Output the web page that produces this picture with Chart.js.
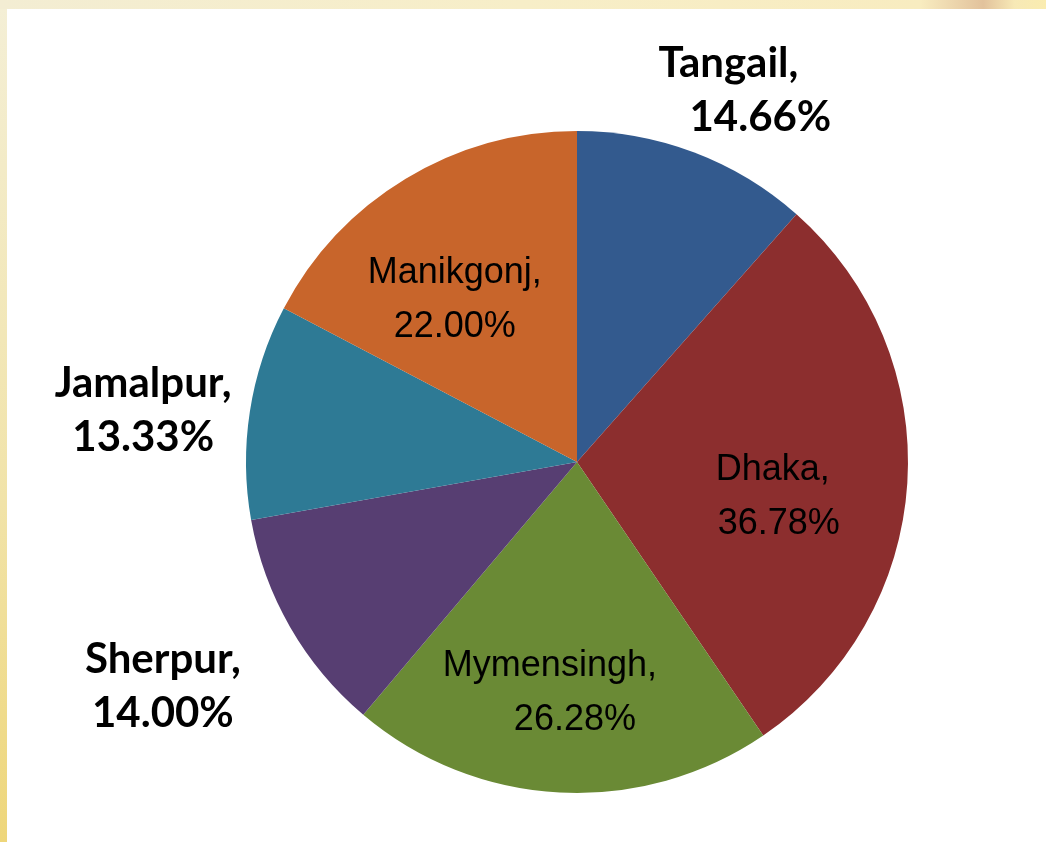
<!DOCTYPE html>
<html>
<head>
<meta charset="utf-8">
<script src="https://cdn.jsdelivr.net/npm/chart.js@4.4.1/dist/chart.umd.min.js"></script>
<style>
  html, body { margin: 0; padding: 0; }
  body {
    width: 1046px; height: 842px; position: relative; overflow: hidden;
    background: linear-gradient(to bottom, #f4efd6 0%, #f1e3a8 60%, #eed67a 100%);
  }
  .topband {
    position: absolute; left: 0; top: 0; width: 1046px; height: 9px;
    background: linear-gradient(to right, #f3edd3 0%, #f7eec8 50%, #f8ecc0 88%, #e2c29c 94%, #f7e9b6 97%, #faecb0 100%);
  }
  .panel { position: absolute; left: 7px; top: 9px; right: 0; bottom: 0; background: #ffffff; }
  #wrap { position: absolute; left: 0; top: 0; width: 1046px; height: 842px; }
</style>
</head>
<body>
<div class="topband"></div>
<div class="panel"></div>
<div id="wrap"><canvas id="pieChart"></canvas></div>
<script>
const districts = ['Tangail', 'Dhaka', 'Mymensingh', 'Sherpur', 'Jamalpur', 'Manikgonj'];
const shares = [14.66, 36.78, 26.28, 14.00, 13.33, 22.00];
const sliceColors = ['#335a8e', '#8c2e2e', '#6a8a35', '#573e72', '#2e7a95', '#c8652b'];

// label placement: radius factor, nudge x/y, per-line x shifts, outside (bold) or inside
const labelPlace = [
  { f: 1.23, dx: 39, dy: 9, l1: -32, l2: 0, outside: true },
  { f: 0.62, dx: -3, dy: 22, l1: -6, l2: 0, outside: false },
  { f: 0.70, dx: -15, dy: 0, l1: 0, l2: 25, outside: false },
  { f: 1.43, dx: -4, dy: -12, l1: 0, l2: 0, outside: true },
  { f: 1.32, dx: -2, dy: 15, l1: 0, l2: 0, outside: true },
  { f: 0.62, dx: -16, dy: 14, l1: 0, l2: 0, outside: false }
];

const sliceLabels = {
  id: 'sliceLabels',
  afterDatasetsDraw(chart) {
    const ctx = chart.ctx;
    const meta = chart.getDatasetMeta(0);
    meta.data.forEach(function (arc, i) {
      const p = labelPlace[i];
      const mid = (arc.startAngle + arc.endAngle) / 2;
      const r = arc.outerRadius * p.f;
      const x = arc.x + Math.cos(mid) * r + p.dx;
      const y = arc.y + Math.sin(mid) * r + p.dy;
      ctx.save();
      ctx.fillStyle = '#000000';
      ctx.textAlign = 'center';
      ctx.textBaseline = 'middle';
      if (p.outside) {
        ctx.font = 'bold 42px Lato, "Open Sans", sans-serif';
      } else {
        ctx.font = '36px "Liberation Sans", Arial, sans-serif';
      }
      const lh = 54;
      ctx.fillText(districts[i] + ',', x + p.l1, y - lh / 2);
      ctx.fillText(shares[i].toFixed(2) + '%', x + p.l2, y + lh / 2);
      ctx.restore();
    });
  }
};

new Chart(document.getElementById('pieChart').getContext('2d'), {
  type: 'pie',
  data: {
    labels: districts,
    datasets: [{
      data: shares,
      backgroundColor: sliceColors,
      borderWidth: 0
    }]
  },
  options: {
    responsive: true,
    maintainAspectRatio: false,
    animation: false,
    layout: { padding: { top: 131, bottom: 49, left: 246, right: 138 } },
    plugins: {
      legend: { display: false },
      tooltip: { enabled: false }
    }
  },
  plugins: [sliceLabels]
});
</script>
</body>
</html>
